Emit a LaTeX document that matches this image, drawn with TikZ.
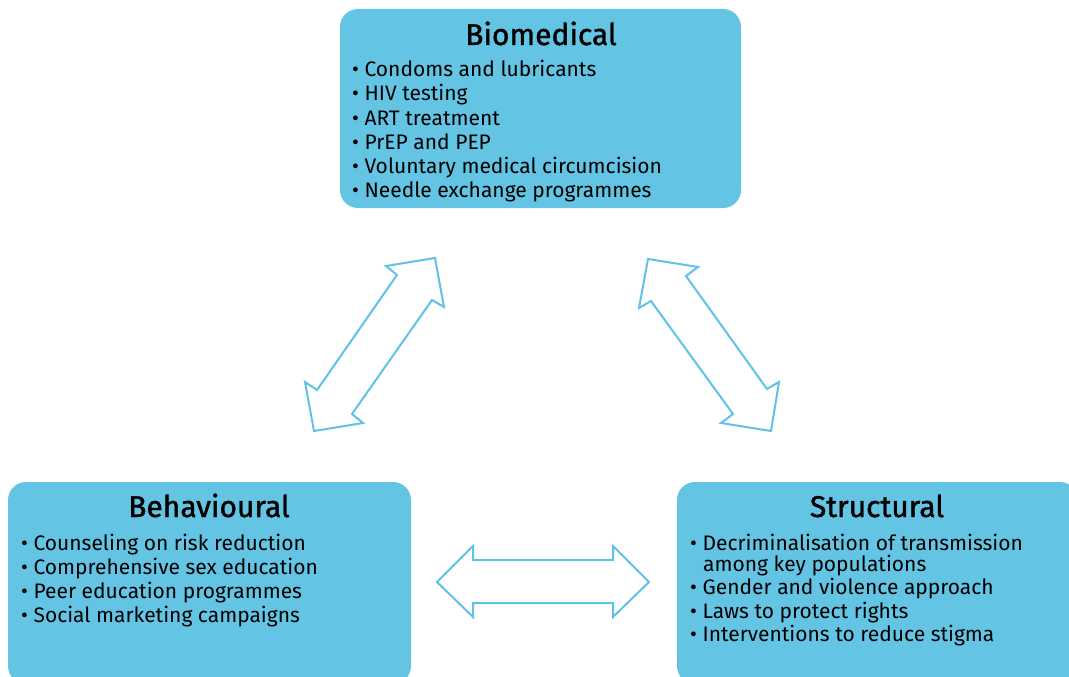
\documentclass[tikz,border=0pt]{standalone}
\usepackage{fontspec}
\setmainfont{Fira Sans}
\newfontfamily\titlefont[FakeBold=1.3]{Fira Sans}
\definecolor{boxblue}{HTML}{63C4E4}
\definecolor{arrowblue}{HTML}{5FC2E6}
\tikzset{
  panel/.style={fill=boxblue, draw=none, rounded corners=18pt},
  boxtitle/.style={anchor=base, inner sep=0pt, font=\fontsize{30}{33}\titlefont},
  item/.style={anchor=base west, inner sep=0pt, font=\fontsize{21}{24}\selectfont},
  dblarrow/.style={draw=arrowblue, line width=2pt, fill=white, line join=miter}
}
\begin{document}
\begin{tikzpicture}[x=1pt,y=-1pt]
\clip (0,0) rectangle (1069,677);
\fill[white] (0,0) rectangle (1069,677);
% boxes
\draw[panel] (340,9) rectangle (741,208);
\draw[panel] (8,482) rectangle (411,684);
\draw[panel] (677,482) rectangle (1078,684);
% Biomedical
\node[boxtitle] (bt) at (541,45) {Biomedical};
\node[item] (b1) at (352,77) {• Condoms and lubricants};
\node[item] (b2) at (352,101) {• HIV testing};
\node[item] (b3) at (352,125) {• ART treatment};
\node[item] (b4) at (352,149) {• PrEP and PEP};
\node[item] (b5) at (352,173) {• Voluntary medical circumcision};
\node[item] (b6) at (352,197) {• Needle exchange programmes};
% Behavioural
\node[boxtitle] (ht) at (209,517) {Behavioural};
\node[item] (h1) at (21,550) {• Counseling on risk reduction};
\node[item] (h2) at (21,574) {• Comprehensive sex education};
\node[item] (h3) at (21,598) {• Peer education programmes};
\node[item] (h4) at (21,622) {• Social marketing campaigns};
% Structural
\node[boxtitle] (st) at (877,517) {Structural};
\node[item] (s1) at (690,550) {• Decriminalisation of transmission};
\node[item] (s1b) at (703,571) {among key populations};
\node[item] (s2) at (690,594) {• Gender and violence approach};
\node[item] (s3) at (690,618) {• Laws to protect rights};
\node[item] (s4) at (690,641) {• Interventions to reduce stigma};
% arrows
\draw[dblarrow] (435,258) -- (444,307) -- (432,300) -- (352,414) -- (363,423) -- (314,431) -- (305,382) -- (317,390) -- (397,275) -- (386,266) -- cycle;
\draw[dblarrow] (648,259) -- (698,267) -- (686,276) -- (767,389) -- (779,382) -- (771,431) -- (721,423) -- (733,414) -- (651,301) -- (639,308) -- cycle;
\draw[dblarrow] (437,582) -- (473,546) -- (473,560) -- (613,560) -- (613,546) -- (649,582) -- (613,617) -- (613,603) -- (473,603) -- (473,617) -- cycle;
\end{tikzpicture}
\end{document}
